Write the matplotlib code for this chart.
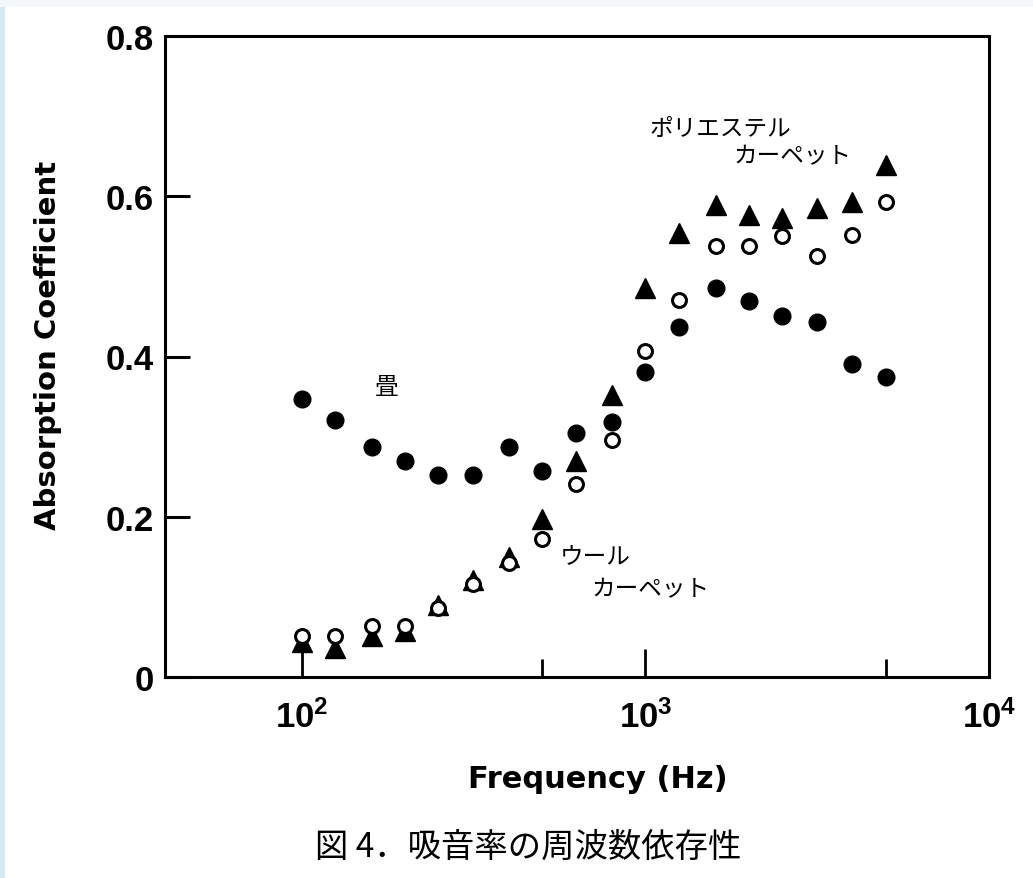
import matplotlib
matplotlib.use("Agg")
import matplotlib.pyplot as plt
from matplotlib.patches import Rectangle
from matplotlib.ticker import FixedLocator, NullFormatter, FuncFormatter, FixedFormatter
import numpy as np

# 1/3 octave band centre frequencies (Hz)
freq = [100, 125, 160, 200, 250, 315, 400, 500, 630, 800,
        1000, 1250, 1600, 2000, 2500, 3150, 4000, 5000]

# 畳 (filled circles)
tatami = [0.347, 0.321, 0.287, 0.270, 0.252, 0.252, 0.287, 0.257, 0.304, 0.318,
          0.381, 0.437, 0.486, 0.469, 0.451, 0.443, 0.391, 0.374]

# ポリエステル カーペット (filled triangles)
polyester = [0.044, 0.036, 0.051, 0.057, 0.090, 0.121, 0.150, 0.197, 0.269, 0.352,
             0.485, 0.554, 0.589, 0.576, 0.573, 0.585, 0.593, 0.639]

# ウール カーペット (open circles)
wool = [0.051, 0.051, 0.064, 0.064, 0.086, 0.116, 0.142, 0.172, 0.241, 0.296,
        0.407, 0.471, 0.538, 0.538, 0.550, 0.525, 0.552, 0.593]

xticks = [100, 1000, 10000]
yticks = [0, 0.2, 0.4, 0.6, 0.8]
ytick_labels = ["0", "0.2", "0.4", "0.6", "0.8"]

cjk = ["Noto Sans CJK JP", "DejaVu Sans"]

plt.rcParams["mathtext.fontset"] = "custom"
plt.rcParams["mathtext.rm"] = "Liberation Sans:bold"
plt.rcParams["mathtext.bf"] = "Liberation Sans:bold"
plt.rcParams["mathtext.it"] = "Liberation Sans:bold"

fig = plt.figure(figsize=(10.33, 8.79), dpi=100)
fig.patch.set_facecolor("white")

ax = fig.add_axes([165 / 1033, 1 - 678 / 879, (989 - 165) / 1033, (678 - 37) / 879])

ax.plot(freq, tatami, "o", ms=12, color="black", mec="black", zorder=3, clip_on=False)
ax.plot(freq, polyester, "^", ms=14, color="black", mec="black", zorder=3, clip_on=False)
ax.plot(freq, wool, "o", ms=10, mfc="white", mec="black", mew=2.2, zorder=4, clip_on=False)

ax.set_xscale("log")
ax.set_xlim(40, 10000)
ax.set_ylim(0, 0.8)

ax.yaxis.set_major_locator(FixedLocator(yticks))
ax.yaxis.set_major_formatter(FixedFormatter(ytick_labels))
ax.tick_params(axis="y", which="major", direction="in", length=18, width=2.2, color="black",
               labelsize=25, pad=8)

ax.xaxis.set_major_locator(FixedLocator(xticks))
ax.xaxis.set_major_formatter(FuncFormatter(
    lambda v, p: r"$\mathbf{10^{%d}}$" % round(np.log10(v))))
ax.xaxis.set_minor_locator(FixedLocator([500, 5000]))
ax.xaxis.set_minor_formatter(NullFormatter())
ax.tick_params(axis="x", which="major", direction="in", length=20, width=2.0, pad=16,
               labelsize=25)
ax.tick_params(axis="x", which="minor", direction="in", length=13, width=2.0)

for lab in ax.get_yticklabels():
    lab.set_fontfamily("Liberation Sans")
    lab.set_fontweight("bold")

for s in ax.spines.values():
    s.set_linewidth(2.2)

ax.set_xlabel("Frequency (Hz)", fontsize=22, fontweight="bold", family="DejaVu Sans")
ax.xaxis.label.set_va("center")
ax.xaxis.set_label_coords(0.525, -0.158)
ax.set_ylabel("Absorption Coefficient", fontsize=21, fontweight="bold", family="DejaVu Sans")
ax.yaxis.label.set_va("center")
ax.yaxis.set_label_coords(-0.142, 0.519)

ax.text(177, 0.363, "畳", fontsize=17, family=cjk, ha="center", va="center")
ax.text(1031, 0.685, "ポリエステル", fontsize=17, family=cjk, ha="left", va="center")
ax.text(1799, 0.650, "カーペット", fontsize=17, family=cjk, ha="left", va="center")
ax.text(563, 0.150, "ウール", fontsize=17, family=cjk, ha="left", va="center")
ax.text(698, 0.110, "カーペット", fontsize=17, family=cjk, ha="left", va="center")

fig.text(528 / 1033, 1 - 847 / 879, "図 4．吸音率の周波数依存性", fontsize=24,
         family=cjk, ha="center", va="center")

# pale frame strips of the scanned page
fig.patches.append(Rectangle((0, 0), 5 / 1033, 1, transform=fig.transFigure,
                             facecolor="#d8e8f0", edgecolor="none", zorder=0))
fig.patches.append(Rectangle((0, 1 - 8 / 879), 1, 8 / 879, transform=fig.transFigure,
                             facecolor="#f4f7fa", edgecolor="none", zorder=0))

fig.savefig("out.png", dpi=100)
